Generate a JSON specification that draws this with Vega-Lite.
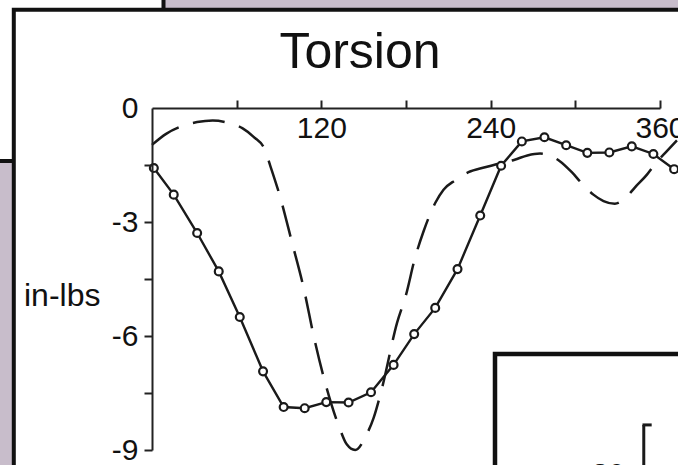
{
  "$schema": "https://vega.github.io/schema/vega-lite/v6.json",
  "autosize": {"type": "none"},
  "padding": {"left": 152, "top": 108, "right": 18, "bottom": 15},
  "width": 508,
  "height": 342,
  "background": "#c8bdcb",
  "title": {
    "text": "Torsion",
    "fontSize": 50,
    "font": "Liberation Sans",
    "fontWeight": "normal",
    "color": "#111111",
    "anchor": "middle",
    "frame": "group",
    "baseline": "alphabetic",
    "offset": 0,
    "dx": -46,
    "dy": 125,
    "zindex": 1
  },
  "config": {
    "view": {"stroke": null},
    "font": "Liberation Sans",
    "axis": {"labelFlush": false, "labelOverlap": false, "labelBound": false, "grid": false}
  },
  "datasets": {
    "measured": [
      {"angle": 1.3, "torque": -1.58}, {"angle": 15.4, "torque": -2.28}, {"angle": 32, "torque": -3.29},
      {"angle": 47.3, "torque": -4.3}, {"angle": 62.2, "torque": -5.5}, {"angle": 78.7, "torque": -6.93},
      {"angle": 93.3, "torque": -7.87}, {"angle": 108.2, "torque": -7.9}, {"angle": 123.5, "torque": -7.74},
      {"angle": 139.3, "torque": -7.75}, {"angle": 155.2, "torque": -7.48}, {"angle": 171.2, "torque": -6.76},
      {"angle": 185.8, "torque": -5.95}, {"angle": 200.7, "torque": -5.26}, {"angle": 216.5, "torque": -4.24},
      {"angle": 232.6, "torque": -2.83}, {"angle": 247.4, "torque": -1.52}, {"angle": 262.1, "torque": -0.88},
      {"angle": 278.1, "torque": -0.77}, {"angle": 293.5, "torque": -0.98}, {"angle": 308.5, "torque": -1.18},
      {"angle": 324.1, "torque": -1.17}, {"angle": 340, "torque": -1.01}, {"angle": 355.3, "torque": -1.21},
      {"angle": 370, "torque": -1.61}
    ],
    "predicted": [
      {"angle": 0, "torque": -0.97}, {"angle": 10, "torque": -0.68}, {"angle": 21, "torque": -0.48},
      {"angle": 32, "torque": -0.37}, {"angle": 43, "torque": -0.33}, {"angle": 54, "torque": -0.39},
      {"angle": 64, "torque": -0.53}, {"angle": 72, "torque": -0.76}, {"angle": 80, "torque": -1.1},
      {"angle": 84, "torque": -1.54}, {"angle": 90.5, "torque": -2.3}, {"angle": 99.3, "torque": -3.55},
      {"angle": 107.5, "torque": -4.74}, {"angle": 114.6, "torque": -6.0}, {"angle": 122.8, "torque": -7.24},
      {"angle": 132.9, "torque": -8.42}, {"angle": 138, "torque": -8.85}, {"angle": 144, "torque": -9.0},
      {"angle": 152, "torque": -8.6}, {"angle": 157, "torque": -8.16}, {"angle": 163, "torque": -7.37},
      {"angle": 173.6, "torque": -5.66}, {"angle": 180.2, "torque": -4.89}, {"angle": 186, "torque": -4.0},
      {"angle": 192.4, "torque": -3.25}, {"angle": 200.7, "torque": -2.5}, {"angle": 206.6, "torque": -2.15},
      {"angle": 215, "torque": -1.9}, {"angle": 224.3, "torque": -1.69}, {"angle": 236, "torque": -1.56},
      {"angle": 247, "torque": -1.45}, {"angle": 257, "torque": -1.36}, {"angle": 266, "torque": -1.25},
      {"angle": 275, "torque": -1.2}, {"angle": 283, "torque": -1.27}, {"angle": 289, "torque": -1.4},
      {"angle": 297.5, "torque": -1.69}, {"angle": 305, "torque": -2.0}, {"angle": 312.8, "torque": -2.28},
      {"angle": 320, "torque": -2.45}, {"angle": 328, "torque": -2.52}, {"angle": 336, "torque": -2.35},
      {"angle": 342, "torque": -2.1}, {"angle": 350.6, "torque": -1.76}, {"angle": 357, "torque": -1.45},
      {"angle": 364.7, "torque": -1.14}, {"angle": 372, "torque": -0.85}
    ]
  },
  "layer": [
    {
      "description": "neighbouring panel, upper left",
      "data": {"values": [{}]},
      "mark": {"type": "rect", "fill": "white", "stroke": "#111111", "strokeWidth": 4, "clip": false},
      "encoding": {
        "x": {"datum": -125, "scale": {"domain": [0, 360], "nice": false, "zero": false}},
        "x2": {"datum": 8.15},
        "y": {"datum": 2.974, "scale": {"domain": [-9, 0], "nice": false, "zero": false}},
        "y2": {"datum": -1.395}
      }
    },
    {
      "description": "torsion panel frame",
      "data": {"values": [{}]},
      "mark": {"type": "rect", "fill": "white", "stroke": "#111111", "strokeWidth": 4, "clip": false},
      "encoding": {
        "x": {"datum": -97.94, "scale": {"domain": [0, 360], "nice": false, "zero": false}},
        "x2": {"datum": 400},
        "y": {"datum": 2.587, "scale": {"domain": [-9, 0], "nice": false, "zero": false}},
        "y2": {"datum": -10.5}
      }
    },
    {
      "data": {"name": "predicted"},
      "mark": {"type": "line", "interpolate": "monotone", "stroke": "#1a1a1a", "strokeWidth": 2.5, "strokeDash": [32, 15], "clip": false},
      "encoding": {
        "x": {"field": "angle", "type": "quantitative", "scale": {"domain": [0, 360], "nice": false, "zero": false}},
        "y": {"field": "torque", "type": "quantitative", "scale": {"domain": [-9, 0], "nice": false, "zero": false}}
      }
    },
    {
      "data": {"name": "measured"},
      "mark": {"type": "line", "stroke": "#1a1a1a", "strokeWidth": 2.4, "clip": false},
      "encoding": {
        "x": {
          "field": "angle", "type": "quantitative",
          "scale": {"domain": [0, 360], "nice": false, "zero": false},
          "axis": {
            "orient": "top",
            "values": [60, 120, 180, 240, 300, 360],
            "labelExpr": "datum.value % 120 === 0 ? '' + datum.value : ''",
            "tickSize": 8,
            "tickWidth": 2,
            "tickColor": "#222222",
            "domainWidth": 2,
            "domainColor": "#222222",
            "labelPadding": -37,
            "labelBaseline": "alphabetic",
            "labelFontSize": 30,
            "labelFont": "Liberation Sans",
            "labelColor": "#111111",
            "title": null,
            "zindex": 1
          }
        },
        "y": {
          "field": "torque", "type": "quantitative",
          "scale": {"domain": [-9, 0], "nice": false, "zero": false},
          "axis": {
            "orient": "left",
            "values": [0, -1.5, -3, -4.5, -6, -7.5, -9],
            "labelExpr": "datum.value % 3 === 0 ? '' + datum.value : ''",
            "tickSize": 8,
            "tickWidth": 2,
            "tickColor": "#222222",
            "tickOpacity": {"condition": {"test": "datum.value === 0", "value": 0}, "value": 1},
            "domainWidth": 2,
            "domainColor": "#222222",
            "labelPadding": 6,
            "labelFontSize": 30,
            "labelFont": "Liberation Sans",
            "labelColor": "#111111",
            "title": "in-lbs",
            "titleAngle": 0,
            "titleAlign": "left",
            "titleBaseline": "alphabetic",
            "titleX": -128.5,
            "titleY": 197,
            "titleFontSize": 32,
            "titleFont": "Liberation Sans",
            "titleFontWeight": "normal",
            "titleColor": "#111111",
            "zindex": 1
          }
        }
      }
    },
    {
      "data": {"name": "measured"},
      "mark": {"type": "point", "shape": "circle", "filled": false, "fill": "white", "fillOpacity": 1, "opacity": 1, "stroke": "#1a1a1a", "strokeWidth": 2.2, "size": 62, "clip": false},
      "encoding": {
        "x": {"field": "angle", "type": "quantitative", "scale": {"domain": [0, 360], "nice": false, "zero": false}},
        "y": {"field": "torque", "type": "quantitative", "scale": {"domain": [-9, 0], "nice": false, "zero": false}}
      }
    },
    {
      "description": "neighbouring panel, lower right",
      "data": {"values": [{}]},
      "mark": {"type": "rect", "fill": "white", "stroke": "#111111", "strokeWidth": 4.5, "clip": false},
      "encoding": {
        "x": {"datum": 243.07, "scale": {"domain": [0, 360], "nice": false, "zero": false}},
        "x2": {"datum": 400},
        "y": {"datum": -6.474, "scale": {"domain": [-9, 0], "nice": false, "zero": false}},
        "y2": {"datum": -10.5}
      }
    },
    {
      "description": "axis corner of the lower right panel",
      "data": {"values": [{}]},
      "mark": {"type": "rule", "stroke": "#1a1a1a", "strokeWidth": 3, "clip": false},
      "encoding": {
        "x": {"datum": 348.5, "scale": {"domain": [0, 360], "nice": false, "zero": false}},
        "y": {"datum": -8.34, "scale": {"domain": [-9, 0], "nice": false, "zero": false}},
        "y2": {"datum": -10.5}
      }
    },
    {
      "data": {"values": [{}]},
      "mark": {"type": "rule", "stroke": "#1a1a1a", "strokeWidth": 3, "clip": false},
      "encoding": {
        "x": {"datum": 347.6, "scale": {"domain": [0, 360], "nice": false, "zero": false}},
        "x2": {"datum": 354.1},
        "y": {"datum": -8.34, "scale": {"domain": [-9, 0], "nice": false, "zero": false}}
      }
    },
    {
      "data": {"values": [{}]},
      "mark": {"type": "text", "text": "-30", "align": "right", "baseline": "alphabetic", "fontSize": 30, "font": "Liberation Sans", "color": "#111111", "clip": false},
      "encoding": {
        "x": {"datum": 335.2, "scale": {"domain": [0, 360], "nice": false, "zero": false}},
        "y": {"datum": -9.89, "scale": {"domain": [-9, 0], "nice": false, "zero": false}}
      }
    }
  ]
}
